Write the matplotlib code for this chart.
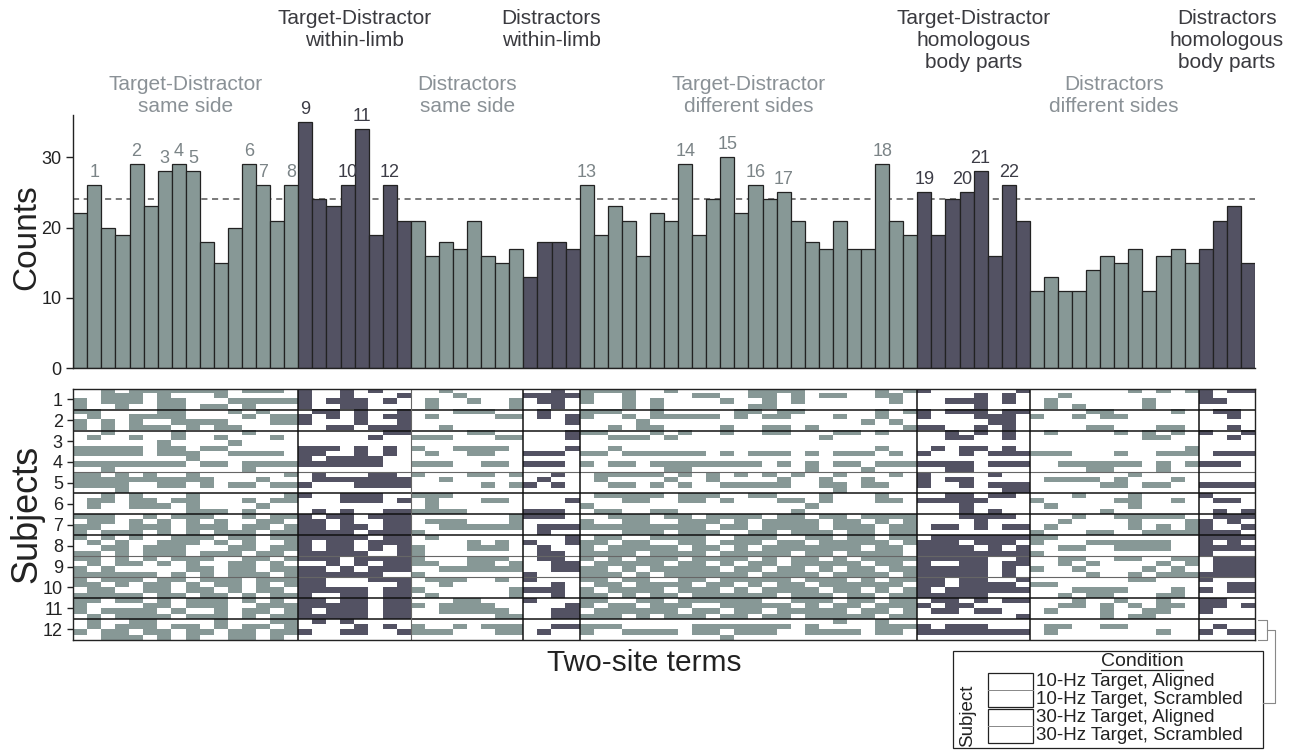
import numpy as np
import matplotlib
matplotlib.use("Agg")
import matplotlib.pyplot as plt
import matplotlib.transforms as mtransforms
from matplotlib.colors import ListedColormap
from matplotlib.patches import Rectangle

plt.rcParams['font.family'] = ['Liberation Sans', 'DejaVu Sans']

GRAY = '#879896'
DARK = '#535263'

# term groups (left to right), their sizes and whether they are drawn dark
group_names = [
    "Target-Distractor\nsame side",
    "Target-Distractor\nwithin-limb",
    "Distractors\nsame side",
    "Distractors\nwithin-limb",
    "Target-Distractor\ndifferent sides",
    "Target-Distractor\nhomologous\nbody parts",
    "Distractors\ndifferent sides",
    "Distractors\nhomologous\nbody parts",
]
group_sizes = [16, 8, 8, 4, 24, 8, 12, 4]
group_dark = [False, True, False, True, False, True, False, True]

# number of subject x condition occurrences of each two-site term
counts = [22, 26, 20, 19, 29, 23, 28, 29, 28, 18, 15, 20, 29, 26, 21, 26,
          35, 24, 23, 26, 34, 19, 26, 21,
          21, 16, 18, 17, 21, 16, 15, 17,
          13, 18, 18, 17,
          26, 19, 23, 21, 16, 22, 21, 29, 19, 24, 30, 22, 26, 24, 25, 21,
          18, 17, 21, 17, 17, 29, 21, 19,
          25, 19, 24, 25, 28, 16, 26, 21,
          11, 13, 11, 11, 14, 16, 15, 17, 11, 16, 17, 15,
          17, 21, 23, 15]
threshold = 24
# terms above threshold get a running number
peak_bars = [1, 4, 6, 7, 8, 12, 13, 15, 16, 19, 20, 22,
             36, 43, 46, 48, 50, 57, 60, 63, 64, 66]
label_nudge = {20: -3}   # crowded label, shifted left (points)

subjects = [str(i) for i in range(1, 13)]
conditions = ["10-Hz Target, Aligned", "10-Hz Target, Scrambled",
              "30-Hz Target, Aligned", "30-Hz Target, Scrambled"]

# presence of each term, one row per subject/condition, split by group
g1 = ["0010111111101110", "0011101000100000", "1011101100011111", "1001001101101000",
      "1100001100010100", "0100111100001011", "1010100111100011", "1010111010110000",
      "0010000100001000", "0100100100100010", "0000001000010000", "1111101101100000",
      "1111101110011110", "0000000010000000", "1111111101101111", "0010000000001000",
      "1101010010000001", "1111111111000100", "1111001101011011", "0001000000000000",
      "0010100010000001", "0110110110001011", "0100111010000100", "0000000011101000",
      "1110010111001011", "0110101010100110", "1100111011101101", "1011101010111011",
      "1010100111011011", "0101001110101001", "0011011100011011", "1101011101110110",
      "1101010111001101", "0101101010011010", "1010000011011011", "1111110101011101",
      "1011101101110111", "1101011010110101", "0110011011010110", "1111101101101011",
      "1101101011101010", "1000011011100111", "1011110100101101", "0101111011101011",
      "0100110000100011", "0101110110101101", "1011011011011011", "0011101010011010"]
g2 = ["10010100", "10010001", "10111010", "10011000",
      "01101001", "10101011", "10001001", "00110111",
      "00000011", "00000100", "00000000", "11101010",
      "11001010", "10111100", "11111100", "00000000",
      "01000110", "01111111", "10001111", "00000000",
      "10011100", "00011101", "00000000", "01010011",
      "10110111", "11010011", "11011011", "11110111",
      "11111011", "10110111", "10110101", "11111001",
      "11101111", "00101011", "11010111", "11111100",
      "11000111", "11000001", "11111011", "10011011",
      "11011011", "11111011", "10111011", "11111011",
      "01010000", "00001010", "10011001", "00000000"]
g3 = ["00100000", "00010000", "01001001", "01000001",
      "00011100", "01000011", "00000000", "00100000",
      "00001100", "11100011", "00000000", "10011110",
      "01001100", "00000000", "11100110", "00000000",
      "10001101", "00100000", "00000101", "00000000",
      "11100000", "01000110", "01000000", "11110000",
      "00000001", "01110001", "00111111", "10000000",
      "01000000", "00001010", "10001110", "10000000",
      "10001110", "11001101", "00111111", "10000000",
      "01110010", "00100000", "10000001", "01000001",
      "00011000", "10111100", "00111110", "00000011",
      "00000000", "10010111", "11100011", "00000000"]
g4 = ["0010", "1111", "0110", "0010",
      "0100", "0101", "0001", "0000",
      "0001", "0001", "0000", "0001",
      "1110", "0000", "1110", "0000",
      "0010", "0100", "1010", "0000",
      "0000", "0001", "0000", "1110",
      "1110", "0000", "0111", "0100",
      "0001", "1001", "0100", "0110",
      "0110", "0011", "0011", "1000",
      "1000", "0010", "1110", "0010",
      "1000", "0001", "0011", "0011",
      "0000", "0011", "0100", "0000"]
g5 = ["111100100000111100000101", "100100001100110101100110",
      "100101000010010100000010", "000101000000110000000000",
      "111001000001101100000101", "100101111101011000100100",
      "000010000000000000001010", "001011000010011010000001",
      "110001010010011000110100", "001110100000000001000000",
      "000000000000000000000000", "001000000000000000000100",
      "110111111010111010111010", "000000000000000000000000",
      "101101111111101010110111", "000000110000000010001000",
      "011111010101010100100010", "010000100100001001001000",
      "001101010011111001101100", "000000000000000000100000",
      "011111011100110001000100", "000110011010001101000110",
      "100000000000000010000000", "011001100000000100000000",
      "001110110111101101101111", "100110011101011110110101",
      "111111111011011110111011", "000111011100110111011011",
      "011001111001110011011011", "110110011011101101111101",
      "101111101101011111110110", "111101111011111011011110",
      "101011101111010110101111", "011111011010110111110110",
      "110101111101101101011011", "111010111111011110111101",
      "110110011011111011101011", "011011110110101101111110",
      "101111011101011110110101", "110101101111110111011011",
      "110011011111100111011011", "101101110011111010110111",
      "011111101101101111101101", "111010111011011011111011",
      "000000000000000000100100", "111000001111111010000111",
      "100111101101110011110110", "000000000010000000000000"]
g6 = ["10000001", "00001010", "00111010", "00001000",
      "10111011", "10001110", "00000110", "11001010",
      "00101010", "00110010", "00000000", "01011010",
      "10010111", "00000000", "11110111", "00110000",
      "10000100", "10110000", "10010111", "00000011",
      "00110110", "11111000", "00010000", "00010100",
      "00011110", "00001000", "01101011", "00000000",
      "01111111", "11101110", "11110101", "11111111",
      "11111001", "10011011", "11111010", "11111010",
      "11011001", "11011110", "10111111", "11111000",
      "01101011", "10110000", "01101100", "00000001",
      "00000000", "10111000", "11111111", "00000000"]
g7 = ["000000010101", "001000000000", "010000001000", "010100001000",
      "000011000010", "100101100000", "000000000000", "000011000110",
      "010000101010", "000000001100", "000000000000", "000000000001",
      "111000100111", "000000000000", "001111110101", "000011000100",
      "000000010000", "011110100010", "000001101100", "000000000000",
      "000100010000", "100000110010", "010000010000", "000001000000",
      "000100111110", "001000010001", "010000010101", "100011001111",
      "110000000000", "100011111100", "001100111100", "100000000000",
      "001100110011", "001010000101", "100100001010", "000010010111",
      "000000011000", "110000000000", "000111100010", "001011000110",
      "000100100100", "001101010110", "010001001100", "000001011000",
      "000000000000", "011001100000", "010000000100", "000000000000"]
g8 = ["1011", "1000", "1100", "0000",
      "0110", "0010", "0000", "0010",
      "1001", "0010", "0000", "0000",
      "0111", "0000", "1110", "0000",
      "0000", "0000", "1111", "0000",
      "1000", "0110", "0000", "0101",
      "0111", "1010", "1001", "1110",
      "1111", "1010", "1111", "1000",
      "0111", "0111", "0111", "1111",
      "1000", "0011", "1011", "0000",
      "1100", "1101", "1000", "0000",
      "0000", "0100", "1011", "0000"]

groups = [g1, g2, g3, g4, g5, g6, g7, g8]
n_terms = sum(group_sizes)
n_rows = len(subjects) * len(conditions)

# build the presence matrix, coded 1 = light group, 2 = dark group
presence = np.zeros((n_rows, n_terms), dtype=int)
col = 0
for rows, size, dark in zip(groups, group_sizes, group_dark):
    for r, s in enumerate(rows):
        bits = np.array([int(ch) for ch in s.ljust(size, "0")[:size]])
        presence[r, col:col + size] = bits * (2 if dark else 1)
    col += size

bar_colors = []
for size, dark in zip(group_sizes, group_dark):
    bar_colors += [DARK if dark else GRAY] * size
edges = np.cumsum([0] + group_sizes)

fig = plt.figure(figsize=(12.94, 7.5), dpi=100)
ax = fig.add_axes([0.0566, 0.509, 0.9132, 0.3377])
ax2 = fig.add_axes([0.0566, 0.147, 0.9132, 0.3347])

# ---- counts
x = np.arange(n_terms)
ax.bar(x, counts, width=1.0, align='edge', color=bar_colors,
       edgecolor='#222222', linewidth=0.9)
ax.axhline(threshold, color='#555555', lw=1.1, ls=(0, (4, 3)), zorder=0.5)
for num, b in enumerate(peak_bars, start=1):
    c = '#3c3c46' if bar_colors[b] == DARK else '#7b8487'
    ax.annotate(str(num), (b + 0.5, counts[b]),
                xytext=(label_nudge.get(num, 0), 3),
                textcoords='offset points', ha='center', va='bottom',
                fontsize=13, color=c)
ax.set_xlim(0, n_terms)
ax.set_ylim(0, 36)
ax.set_yticks([0, 10, 20, 30])
ax.set_xticks([])
ax.tick_params(axis='y', labelsize=13, length=5, width=1, colors='#222222')
for s in ['top', 'right']:
    ax.spines[s].set_visible(False)
for s in ['left', 'bottom']:
    ax.spines[s].set_color('#222222')
    ax.spines[s].set_linewidth(1)

trans = mtransforms.blended_transform_factory(ax.transData, ax.transAxes)
for name, lo, hi, dark in zip(group_names, edges[:-1], edges[1:], group_dark):
    ax.text((lo + hi) / 2, 1.42 if dark else 1.156, name, transform=trans,
            ha='center', va='top', fontsize=15,
            color='#3a3a3f' if dark else '#8a9196')

# ---- subjects x terms
cmap = ListedColormap(['white', GRAY, DARK])
ax2.imshow(presence, aspect='auto', cmap=cmap, vmin=0, vmax=2,
           interpolation='nearest', extent=(0, n_terms, n_rows, 0))
ax2.set_xlim(0, n_terms)
ax2.set_ylim(n_rows, 0)
ax2.set_xticks([])
ax2.set_yticks(np.arange(len(subjects)) * 4 + 2)
ax2.set_yticklabels(subjects)
ax2.tick_params(axis='y', labelsize=13, length=4, width=1, colors='#222222')
for s in ax2.spines.values():
    s.set_color('#222222')
    s.set_linewidth(1)

light_rows = {16, 32, 36}
for k in range(1, len(subjects)):
    r = 4 * k
    if r == 12:
        continue
    if r in light_rows:
        ax2.axhline(r, color='#666666', lw=0.8)
    else:
        ax2.axhline(r, color='#111111', lw=1.1)
for e in edges[1:-1]:
    if e == 24:
        ax2.axvline(e, color='#666666', lw=0.8)
    else:
        ax2.axvline(e, color='#111111', lw=1.1)

fig.text(27 / 1294, 1 - 237 / 750, "Counts", rotation=90, ha='center',
         va='center', fontsize=24, color='#222222')
fig.text(27 / 1294, 1 - 514 / 750, "Subjects", rotation=90, ha='center',
         va='center', fontsize=26, color='#222222')
fig.text(644 / 1294, 1 - 663 / 750, "Two-site terms", ha='center',
         va='center', fontsize=21.5, color='#222222')

# ---- condition key, in pixel coordinates
ov = fig.add_axes([0, 0, 1, 1], facecolor='none')
ov.set_xlim(0, 1294)
ov.set_ylim(750, 0)
ov.axis('off')
ov.add_patch(Rectangle((953, 651), 310, 97, fill=False, ec='#222222', lw=0.9))
ov.text(1142, 662, "Condition", ha='center', va='center', fontsize=14,
        color='#222222')
ov.plot([1101, 1183], [670, 670], color='#222222', lw=0.9)
ov.text(968, 716, "Subject", rotation=90, ha='center', va='center',
        fontsize=13.5, color='#222222')
for top, h in [(673, 34), (709, 34)]:
    ov.add_patch(Rectangle((988, top), 45, h, fill=False, ec='#222222', lw=0.9))
    ov.plot([988, 1033], [top + h / 2, top + h / 2], color='#888888', lw=0.7)
for yy, cond in zip([681, 699, 718, 736], conditions):
    ov.text(1036, yy, cond, ha='left', va='center', fontsize=13.5,
            color='#222222')
# bracket from the last subject to the key
ov.plot([1258, 1267, 1267, 1258], [620, 620, 640, 640], color='#888888', lw=0.8)
ov.plot([1267, 1275, 1275, 1263], [630, 630, 703, 703], color='#888888', lw=0.8)

fig.savefig("out.png", dpi=100)
